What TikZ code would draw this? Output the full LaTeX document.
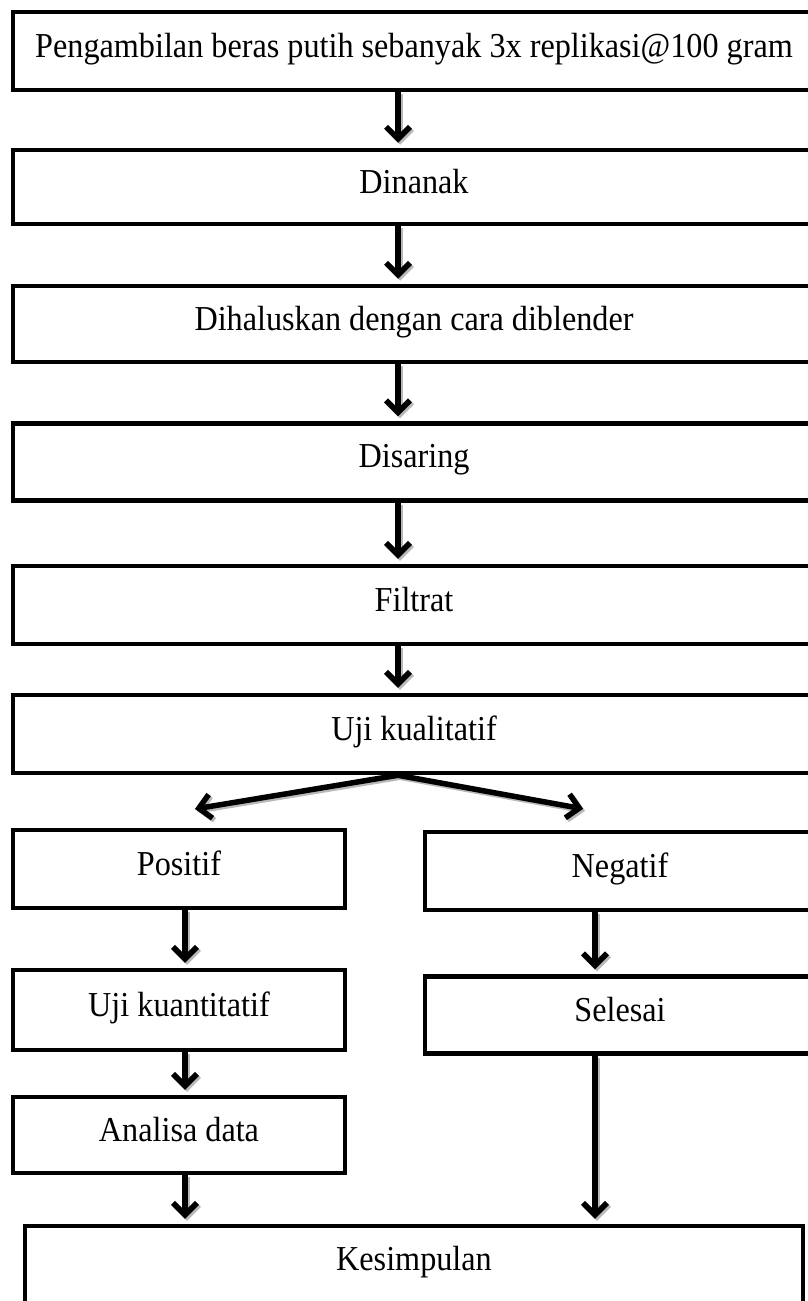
\documentclass[tikz,border=0pt]{standalone}
\usepackage{fontspec}
\setmainfont[FakeStretch=0.92]{Liberation Serif}
\usetikzlibrary{arrows.meta,positioning}

\begin{document}
\begin{tikzpicture}[x=1pt,y=-1pt]
   \tikzstyle{box}=[draw, rectangle, line width=4.5pt, inner sep=0pt, font=\fontsize{35}{40}\selectfont, text depth=12pt]
   \tikzstyle{arr}=[line width=5.5pt, shorten >=5pt, -{Straight Barb[length=12pt,width=24pt]}, preaction={draw=gray!55, line width=5.5pt, shorten >=5pt, -{Straight Barb[length=12pt,width=24pt]}, transform canvas={shift={(2pt,-2pt)}}}]

\useasboundingbox (0,0) rectangle (808,1301);

\node[box, minimum width=802pt, minimum height=78pt] (ambil) at (414,51) {Pengambilan beras putih sebanyak 3x replikasi@100 gram};
\node[box, minimum width=802pt, minimum height=74pt] (nanak) at (414,187) {Dinanak};
\node[box, minimum width=802pt, minimum height=76pt] (halus) at (414,324) {Dihaluskan dengan cara diblender};
\node[box, minimum width=802pt, minimum height=77pt] (saring) at (414,462) {Disaring};
\node[box, minimum width=802pt, minimum height=78pt] (filtrat) at (414,605) {Filtrat};
\node[box, minimum width=802pt, minimum height=78pt] (kual) at (414,734) {Uji kualitatif};

\node[box, minimum width=332pt, minimum height=78pt] (positif) at (179,869) {Positif};
\node[box, minimum width=332pt, minimum height=80pt] (kuan) at (179,1010) {Uji kuantitatif};
\node[box, minimum width=332pt, minimum height=76pt] (analisa) at (179,1135) {Analisa data};

\node[box, minimum width=390pt, minimum height=78pt] (negatif) at (620,871) {Negatif};
\node[box, minimum width=390pt, minimum height=77pt] (selesai) at (620,1015) {Selesai};

\node[box, minimum width=778pt, minimum height=94pt, text depth=30pt] (kesimpulan) at (414,1273) {Kesimpulan};

\coordinate (mid) at (398,0);
\coordinate (lmid) at (185,0);
\coordinate (rmid) at (595,0);

% alur utama
\foreach \a/\b in {ambil/nanak, nanak/halus, halus/saring, saring/filtrat, filtrat/kual}
    \draw[arr] (\a.south -| mid) -- (\b.north -| mid);

% cabang hasil uji
\draw[arr] (kual.south -| mid) -- ([xshift=11pt,yshift=18pt]positif.north);
\draw[arr] (kual.south -| mid) -- ([xshift=-32pt,yshift=20pt]negatif.north);

\draw[arr] (positif.south -| lmid) -- (kuan.north -| lmid);
\draw[arr] (kuan.south -| lmid) -- (analisa.north -| lmid);
\draw[arr] (analisa.south -| lmid) -- (kesimpulan.north -| lmid);
\draw[arr] (negatif.south -| rmid) -- (selesai.north -| rmid);
\draw[arr] (selesai.south -| rmid) -- (kesimpulan.north -| rmid);

\end{tikzpicture}
\end{document}
